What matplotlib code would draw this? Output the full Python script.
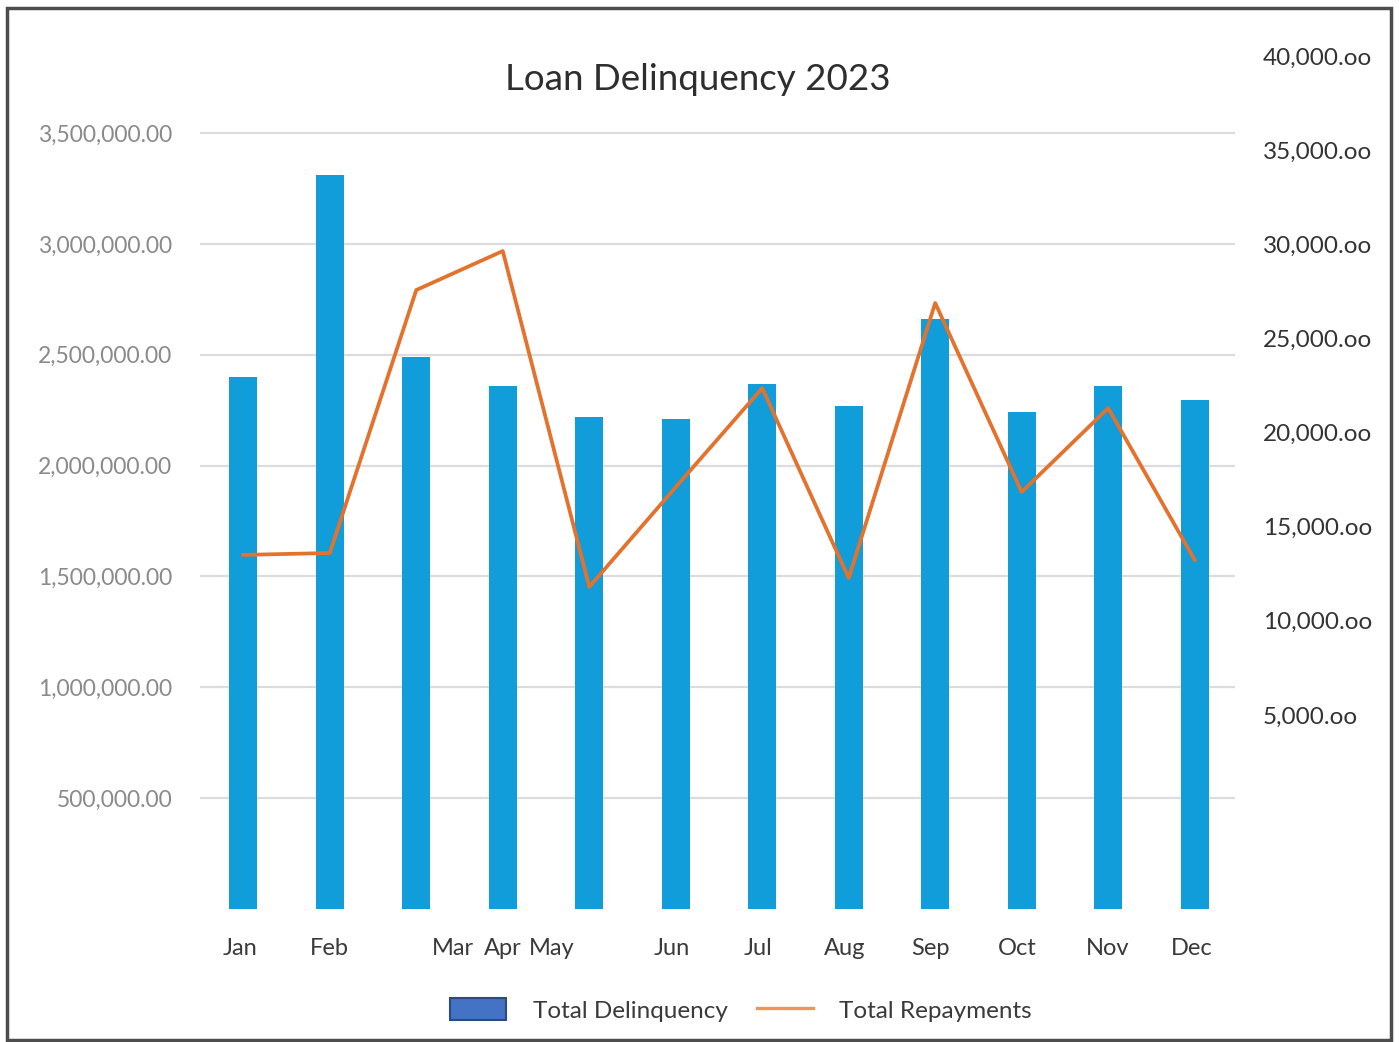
import matplotlib.pyplot as plt
from matplotlib.patches import Patch, Rectangle
from matplotlib.lines import Line2D
from matplotlib.ticker import FuncFormatter

months = ['Jan', 'Feb', 'Mar', 'Apr', 'May', 'Jun',
          'Jul', 'Aug', 'Sep', 'Oct', 'Nov', 'Dec']
delinquency = [2400000, 3310000, 2490000, 2360000, 2220000, 2210000,
               2370000, 2270000, 2660000, 2240000, 2360000, 2295000]
repayments = [13500, 13600, 27570, 29640, 11800, 17100,
              22360, 12270, 26880, 16840, 21300, 13230]
left_ticks = [500000, 1000000, 1500000, 2000000, 2500000, 3000000, 3500000]
right_ticks = [5000, 10000, 15000, 20000, 25000, 30000, 35000, 40000]

# label offsets seen in the original (Mar/Apr/May bunched together)
label_shift = [-0.04, 0, 0.42, 0, -0.43, -0.04, -0.05, -0.05, -0.05, -0.05, 0, -0.03]

BAR = '#109DD9'
LINE = '#E4722C'

plt.rcParams['font.family'] = ['Lato', 'DejaVu Sans']

fig = plt.figure(figsize=(13.99, 10.42), dpi=100)
ax = fig.add_axes([0.143, 0.1276, 0.740, 0.8244])

x = list(range(len(months)))
ax.bar(x, delinquency, width=0.32, color=BAR, zorder=2)
ax.set_xlim(-0.5, 11.47)
ax.set_ylim(0, 3874355)
ax.set_yticks(left_ticks)
ax.yaxis.set_major_formatter(FuncFormatter(lambda v, p: f'{v:,.2f}'))
ax.tick_params(axis='y', length=0, pad=20, labelsize=16.5, labelcolor='#8a8a8a')
ax.grid(axis='y', color='#dcdcdc', lw=1.6, zorder=0)
ax.set_xticks([i + s for i, s in zip(x, label_shift)])
ax.set_xticklabels(months)
ax.tick_params(axis='x', length=0, pad=21, labelsize=17, labelcolor='#3a3a3a')
for s in ax.spines.values():
    s.set_visible(False)

ax2 = ax.twinx()
ax2.plot(x, repayments, color=LINE, lw=2.7, zorder=3)
ax2.set_ylim(-5312, 40319)
ax2.set_yticks(right_ticks)
ax2.yaxis.set_major_formatter(FuncFormatter(lambda v, p: f'{v:,.0f}.oo'))
ax2.tick_params(axis='y', length=0, pad=20, labelsize=17.5, labelcolor='#333333')
for s in ax2.spines.values():
    s.set_visible(False)

fig.text(698 / 1399, 1 - 80 / 1042, 'Loan Delinquency 2023', ha='center',
         va='center', fontsize=26.5, color='#2e2e2e')

handles = [Patch(facecolor='#4472C4', edgecolor='#2B4A80', lw=1.5),
           Line2D([0], [0], color='#F0955A', lw=2.4)]
fig.legend(handles, ['Total Delinquency', 'Total Repayments'], loc='center',
           bbox_to_anchor=(741 / 1399, 1 - 1010 / 1042), ncol=2, frameon=False,
           fontsize=17.5, handlelength=2.3, handleheight=1.0, handletextpad=1.1,
           columnspacing=1.2, labelcolor='#3a3a3a')

fig.patches.append(Rectangle((7 / 1399, 2 / 1042), 1384 / 1399, 1032 / 1042,
                             transform=fig.transFigure, fill=False,
                             edgecolor='#4d4d4d', lw=2.5))

fig.savefig('out.png', dpi=100, facecolor='white')
